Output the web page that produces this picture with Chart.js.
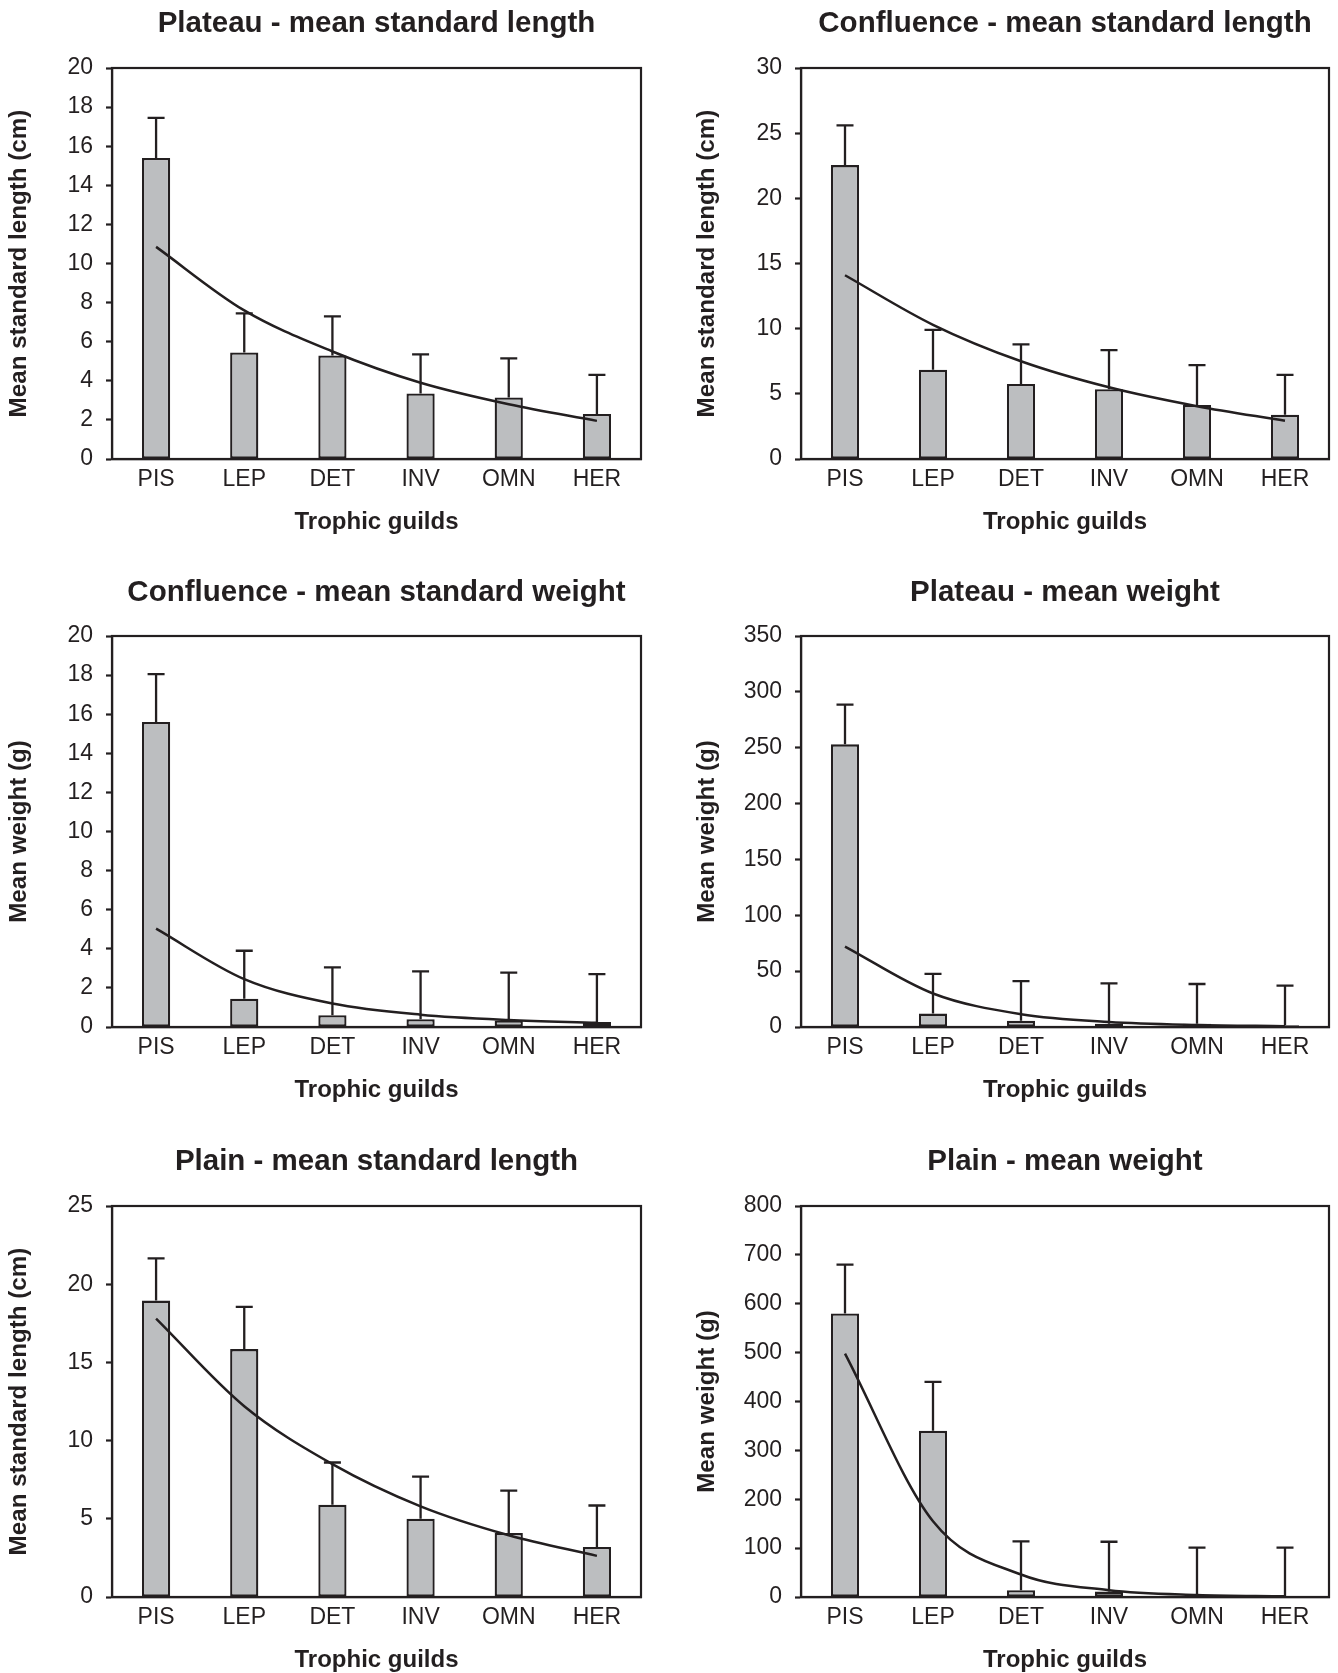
<!DOCTYPE html>
<html>
<head>
<meta charset="utf-8">
<script src="https://cdn.jsdelivr.net/npm/chart.js@4.4.1/dist/chart.umd.min.js"></script>
<style>
  html, body { margin: 0; padding: 0; background: #fff; }
  body { width: 1338px; height: 1673px; position: relative; overflow: hidden; }
  canvas { position: absolute; }
</style>
</head>
<body>
<canvas id="c1" width="669" height="540" style="left:0px;top:0px"></canvas>
<canvas id="c2" width="669" height="540" style="left:669px;top:0px"></canvas>
<canvas id="c3" width="669" height="540" style="left:0px;top:568px"></canvas>
<canvas id="c4" width="669" height="540" style="left:669px;top:568px"></canvas>
<canvas id="c5" width="669" height="540" style="left:0px;top:1138px"></canvas>
<canvas id="c6" width="669" height="540" style="left:669px;top:1138px"></canvas>
<script>
// categories
const guilds = ["PIS", "LEP", "DET", "INV", "OMN", "HER"];

// Plateau - mean standard length (cm)
const plateauLenMean  = [15.4, 5.45, 5.3, 3.35, 3.15, 2.3];
const plateauLenErr   = [2.05, 2.0, 2.0, 2.0, 2.0, 2.0];
const plateauLenTrend = [10.85, 7.6, 5.5, 3.9, 2.8, 1.95];

// Confluence - mean standard length (cm)
const confLenMean  = [22.55, 6.85, 5.75, 5.35, 4.15, 3.4];
const confLenErr   = [3.05, 3.05, 3.05, 3.0, 3.05, 3.05];
const confLenTrend = [14.1, 10.3, 7.5, 5.5, 4.05, 2.93];

// Confluence - mean standard weight (g)
const confWtMean  = [15.6, 1.45, 0.6, 0.4, 0.33, 0.25];
const confWtErr   = [2.45, 2.45, 2.45, 2.45, 2.45, 2.45];
const confWtTrend = [5.03, 2.45, 1.2, 0.63, 0.36, 0.22];

// Plateau - mean weight (g)
const plateauWtMean  = [253, 12, 5.5, 3, 3, 1.5];
const plateauWtErr   = [35.5, 35.5, 35.5, 36, 35.5, 35.5];
const plateauWtTrend = [72, 30, 11.5, 4.5, 1.8, 0.7];

// Plain - mean standard length (cm)
const plainLenMean  = [18.95, 15.85, 5.9, 5.0, 4.1, 3.2];
const plainLenErr   = [2.7, 2.7, 2.7, 2.7, 2.7, 2.65];
const plainLenTrend = [17.8, 12.2, 8.5, 5.8, 3.95, 2.63];

// Plain - mean weight (g)
const plainWtMean  = [580, 340, 14, 11, 2, 2];
const plainWtErr   = [100, 100, 100, 102, 99, 99];
const plainWtTrend = [498, 155, 46, 14, 4.2, 1.3];

// y axis ranges (max, step) per panel
const yMax  = [20, 30, 20, 350, 25, 800];
const yStep = [2, 5, 2, 50, 5, 100];

const ink = "#231f20";
const barFill = "#bcbec0";
const font = "'Liberation Sans', Arial, Helvetica, sans-serif";

const panels = [
  { id: "c1", title: "Plateau - mean standard length", yTitle: "Mean standard length (cm)",
    mean: plateauLenMean, err: plateauLenErr, trend: plateauLenTrend, col: 0, titleY: 23.5 },
  { id: "c2", title: "Confluence - mean standard length", yTitle: "Mean standard length (cm)",
    mean: confLenMean, err: confLenErr, trend: confLenTrend, col: 1, titleY: 23.5 },
  { id: "c3", title: "Confluence - mean standard weight", yTitle: "Mean weight (g)",
    mean: confWtMean, err: confWtErr, trend: confWtTrend, col: 0, titleY: 25 },
  { id: "c4", title: "Plateau - mean weight", yTitle: "Mean weight (g)",
    mean: plateauWtMean, err: plateauWtErr, trend: plateauWtTrend, col: 1, titleY: 25 },
  { id: "c5", title: "Plain - mean standard length", yTitle: "Mean standard length (cm)",
    mean: plainLenMean, err: plainLenErr, trend: plainLenTrend, col: 0, titleY: 23.5 },
  { id: "c6", title: "Plain - mean weight", yTitle: "Mean weight (g)",
    mean: plainWtMean, err: plainWtErr, trend: plainWtTrend, col: 1, titleY: 23.5 }
];

// box round the plot area (top and right sides)
const frame = {
  id: "frame",
  beforeDatasetsDraw(chart) {
    const { ctx, chartArea: a } = chart;
    ctx.save();
    ctx.strokeStyle = ink;
    ctx.lineWidth = 2.2;
    ctx.strokeRect(a.left, a.top, a.right - a.left, a.bottom - a.top);
    ctx.restore();
  }
};

function makeTitle(text, y) {
  return {
    id: "panelTitle",
    afterDraw(chart) {
      const { ctx, chartArea: a } = chart;
      ctx.save();
      ctx.fillStyle = ink;
      ctx.font = "bold 29.5px " + font;
      ctx.textAlign = "center";
      ctx.textBaseline = "middle";
      ctx.fillText(text, (a.left + a.right) / 2, y);
      ctx.restore();
    }
  };
}

// upper error whiskers with caps
function makeErrorBars(mean, err) {
  return {
    id: "errorBars",
    afterDatasetsDraw(chart) {
      const { ctx, scales: { x, y } } = chart;
      ctx.save();
      ctx.strokeStyle = ink;
      ctx.lineWidth = 2.3;
      mean.forEach((m, i) => {
        const px = x.getPixelForValue(i);
        const y0 = y.getPixelForValue(m);
        const y1 = y.getPixelForValue(m + err[i]);
        ctx.beginPath();
        ctx.moveTo(px, y0);
        ctx.lineTo(px, y1);
        ctx.moveTo(px - 8.5, y1);
        ctx.lineTo(px + 8.5, y1);
        ctx.stroke();
      });
      ctx.restore();
    }
  };
}

panels.forEach((p, k) => {
  const yWidth = p.col === 0 ? 112 : 132;
  const padRight = p.col === 0 ? 28 : 9;
  const yTitlePad = p.col === 0 ? 5 : 24;

  new Chart(document.getElementById(p.id), {
    type: "bar",
    data: {
      labels: guilds,
      datasets: [
        {
          type: "line",
          data: p.trend,
          borderColor: ink,
          borderWidth: 2.5,
          pointRadius: 0,
          cubicInterpolationMode: "monotone",
          fill: false,
          order: 0
        },
        {
          type: "bar",
          data: p.mean,
          backgroundColor: barFill,
          borderColor: ink,
          borderWidth: 2.3,
          borderSkipped: false,
          barPercentage: 0.32,
          categoryPercentage: 1,
          order: 1
        }
      ]
    },
    options: {
      responsive: false,
      animation: false,
      devicePixelRatio: 1,
      layout: { padding: { top: 68, right: padRight, left: 0, bottom: 0 } },
      plugins: {
        legend: { display: false },
        tooltip: { enabled: false },
        title: { display: false }
      },
      scales: {
        x: {
          offset: true,
          grid: { display: true, drawOnChartArea: false, drawTicks: false },
          border: { display: true, color: ink, width: 2.2 },
          ticks: { color: ink, padding: 7, font: { family: font, size: 23 } },
          title: {
            display: true,
            text: "Trophic guilds",
            color: ink,
            font: { family: font, size: 24, weight: "bold" },
            padding: { top: 0, bottom: 3.6 }
          },
          afterFit(scale) { scale.height = 81; }
        },
        y: {
          min: 0,
          max: yMax[k],
          ticks: {
            stepSize: yStep[k],
            color: ink,
            padding: 13,
            font: { family: font, size: 23 }
          },
          grid: {
            display: true,
            drawOnChartArea: false,
            drawTicks: true,
            tickLength: 6,
            tickWidth: 2.2,
            tickColor: ink,
            color: ink
          },
          border: { display: true, color: ink, width: 2.2 },
          title: {
            display: true,
            text: p.yTitle,
            color: ink,
            font: { family: font, size: 24.2, weight: "bold" },
            padding: { top: yTitlePad, bottom: 0 }
          },
          afterFit(scale) { scale.width = yWidth; }
        }
      }
    },
    plugins: [frame, makeErrorBars(p.mean, p.err), makeTitle(p.title, p.titleY)]
  });
});
</script>
</body>
</html>
